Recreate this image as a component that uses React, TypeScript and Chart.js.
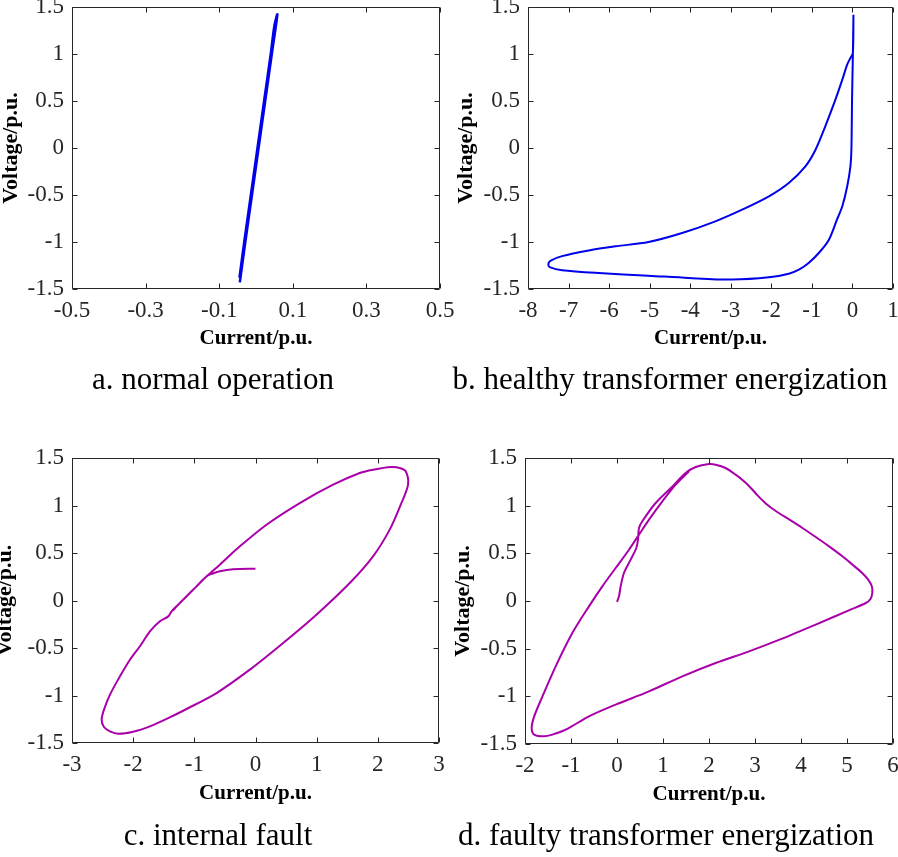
import React, { useEffect, useRef } from 'react';
import { Chart, registerables } from 'chart.js';

Chart.register(...registerables);

// ---------- data ----------
// a. normal operation
const aCurrent = [-0.044, -0.029, -0.011, 0.007, 0.025, 0.043, 0.058, 0.050, 0.040, 0.022, 0.004, -0.014, -0.032, -0.045];
const aVoltage = [-1.43, -1.0, -0.5, 0.0, 0.5, 1.0, 1.42, 1.3, 1.0, 0.5, 0.0, -0.5, -1.0, -1.38];

// b. healthy transformer energization
const bCurrent = [0.025, 0.01, -0.01, -0.025, -0.05, -0.13, -0.25, -0.38, -0.58, -0.83, -1.08, -1.32, -1.57, -2.06, -2.97, -4.04, -5.03, -6.26, -7.16, -7.45, -7.5, -7.45, -7.16, -6.5, -5.84, -5.03, -4.2, -3.38, -2.72, -2.06, -1.57, -1.16, -0.91, -0.67, -0.42, -0.25, -0.13, -0.05, 0.01, 0.025];
const bVoltage = [1.418, 0.975, 0.514, 0, -0.195, -0.41, -0.62, -0.76, -0.975, -1.117, -1.223, -1.294, -1.337, -1.376, -1.4, -1.383, -1.358, -1.33, -1.3, -1.27, -1.24, -1.2, -1.15, -1.09, -1.046, -1.0, -0.904, -0.78, -0.656, -0.514, -0.372, -0.195, -0.018, 0.23, 0.514, 0.727, 0.887, 0.957, 1.01, 1.418];

// c. internal fault
const cCurrent = [0, -0.365, -0.583, -0.719, -0.8, -0.964, -1.127, -1.29, -1.372, -1.426, -1.563, -1.726, -1.889, -2.053, -2.216, -2.379, -2.477, -2.515, -2.477, -2.379, -2.243, -1.998, -1.726, -1.454, -1.127, -0.637, -0.093, 0.452, 0.996, 1.541, 1.922, 2.194, 2.385, 2.494, 2.456, 2.357, 2.221, 1.922, 1.704, 1.269, 0.724, 0.18, -0.256, -0.583, -0.8, -1.073, -1.29, -1.345];
const cVoltage = [0.335, 0.328, 0.307, 0.279, 0.254, 0.149, 0.044, -0.061, -0.114, -0.167, -0.219, -0.325, -0.482, -0.623, -0.798, -0.991, -1.149, -1.254, -1.332, -1.377, -1.402, -1.381, -1.325, -1.247, -1.142, -0.974, -0.728, -0.447, -0.149, 0.184, 0.465, 0.746, 1.026, 1.219, 1.36, 1.395, 1.405, 1.377, 1.342, 1.219, 1.026, 0.798, 0.57, 0.377, 0.254, 0.079, -0.061, -0.104];

// d. faulty transformer energization
const dCurrent = [0, 0.043, 0.08, 0.152, 0.297, 0.42, 0.457, 0.478, 0.55, 0.84, 1.2, 1.49, 1.71, 2.0, 2.145, 2.36, 2.58, 2.76, 2.91, 3.06, 3.24, 3.46, 3.75, 4.03, 4.32, 4.61, 4.9, 5.12, 5.33, 5.46, 5.54, 5.55, 5.51, 5.41, 5.04, 4.32, 3.59, 2.87, 2.145, 1.42, 0.696, -0.029, -0.609, -1.116, -1.406, -1.587, -1.8, -1.855, -1.8, -1.62, -1.333, -0.971, -0.609, -0.319, -0.029, 0.261, 0.478, 0.696, 0.986, 1.275, 1.565];
const dVoltage = [-0.01, 0.049, 0.154, 0.294, 0.434, 0.556, 0.643, 0.766, 0.836, 1.028, 1.2, 1.343, 1.406, 1.437, 1.43, 1.395, 1.325, 1.255, 1.185, 1.105, 1.021, 0.941, 0.853, 0.766, 0.671, 0.573, 0.469, 0.381, 0.294, 0.224, 0.154, 0.084, 0.021, -0.021, -0.098, -0.248, -0.395, -0.528, -0.65, -0.79, -0.948, -1.087, -1.21, -1.35, -1.402, -1.42, -1.402, -1.332, -1.21, -1.0, -0.685, -0.336, -0.056, 0.154, 0.346, 0.538, 0.696, 0.853, 1.045, 1.22, 1.36];

// ticks
const yTicks = [-1.5, -1, -0.5, 0, 0.5, 1, 1.5];
const yTickLabels = ['-1.5', '-1', '-0.5', '0', '0.5', '1', '1.5'];
const aXTicks = [-0.5, -0.3, -0.1, 0.1, 0.3, 0.5];
const aXTickLabels = ['-0.5', '-0.3', '-0.1', '0.1', '0.3', '0.5'];
const bXTicks = [-8, -7, -6, -5, -4, -3, -2, -1, 0, 1];
const bXTickLabels = ['-8', '-7', '-6', '-5', '-4', '-3', '-2', '-1', '0', '1'];
const cXTicks = [-3, -2, -1, 0, 1, 2, 3];
const cXTickLabels = ['-3', '-2', '-1', '0', '1', '2', '3'];
const dXTicks = [-2, -1, 0, 1, 2, 3, 4, 5, 6];
const dXTickLabels = ['-2', '-1', '0', '1', '2', '3', '4', '5', '6'];

const xTitle = 'Current/p.u.';
const yTitle = 'Voltage/p.u.';

// ---------- layout ----------
const FONT = "'Liberation Serif', 'Times New Roman', serif";
const YW = 100; // y-axis box width
const XH = 100; // x-axis box height
const PAD_T = 25;
const PAD_R = 25;
const X_TITLE_SIZE = 21;
const Y_TITLE_SIZE = 22;
const TICK_SIZE = 23;

type PanelCfg = {
  current: number[];
  voltage: number[];
  xTicks: number[];
  xTickLabels: string[];
  color: string;
  width: number;
  L: number; T: number; R: number; B: number;
  yTitleX: number;
  xTitleY: number;
  caption: string;
  captionX: number;
  captionBase: number;
};

const panels: PanelCfg[] = [
  { current: aCurrent, voltage: aVoltage, xTicks: aXTicks, xTickLabels: aXTickLabels, color: 'rgb(0,0,235)', width: 2.5,
    L: 72, T: 7, R: 440, B: 289, yTitleX: 11.5, xTitleY: 338.5, caption: 'a. normal operation', captionX: 213, captionBase: 389 },
  { current: bCurrent, voltage: bVoltage, xTicks: bXTicks, xTickLabels: bXTickLabels, color: 'rgb(0,0,235)', width: 2,
    L: 528, T: 7, R: 893, B: 289, yTitleX: 466, xTitleY: 338.5, caption: 'b. healthy transformer energization', captionX: 670, captionBase: 389 },
  { current: cCurrent, voltage: cVoltage, xTicks: cXTicks, xTickLabels: cXTickLabels, color: 'rgb(170,0,170)', width: 2,
    L: 72, T: 458, R: 439, B: 743, yTitleX: 5.5, xTitleY: 793.5, caption: 'c. internal fault', captionX: 218, captionBase: 845 },
  { current: dCurrent, voltage: dVoltage, xTicks: dXTicks, xTickLabels: dXTickLabels, color: 'rgb(170,0,170)', width: 2,
    L: 525, T: 458, R: 893, B: 744, yTitleX: 463, xTitleY: 795, caption: 'd. faulty transformer energization', captionX: 666, captionBase: 845 },
];

const boxPlugin = {
  id: 'matlabBox',
  afterDatasetsDraw(chart: any) {
    const { ctx, chartArea, scales } = chart;
    const l = Math.round(chartArea.left) + 0.5;
    const r = Math.round(chartArea.right) - 0.5;
    const t = Math.round(chartArea.top) + 0.5;
    const b = Math.round(chartArea.bottom) - 0.5;
    const tl = 5;
    ctx.save();
    ctx.strokeStyle = '#262626';
    ctx.lineWidth = 1;
    ctx.beginPath();
    ctx.rect(l, t, r - l, b - t);
    for (const tk of scales.x.ticks) {
      const px = Math.round(scales.x.getPixelForValue(tk.value)) + 0.5;
      ctx.moveTo(px, b); ctx.lineTo(px, b - tl);
      ctx.moveTo(px, t); ctx.lineTo(px, t + tl);
    }
    for (const tk of scales.y.ticks) {
      const py = Math.round(scales.y.getPixelForValue(tk.value)) + 0.5;
      ctx.moveTo(l, py); ctx.lineTo(l + tl, py);
      ctx.moveTo(r, py); ctx.lineTo(r - tl, py);
    }
    ctx.stroke();
    ctx.restore();
  },
};

function lookup(ticks: number[], labels: string[], v: number) {
  const i = ticks.findIndex((t) => Math.abs(t - v) < 1e-9);
  return i >= 0 ? labels[i] : '';
}

function Panel({ cfg }: { cfg: PanelCfg }) {
  const ref = useRef<HTMLCanvasElement>(null);
  const W = YW + (cfg.R - cfg.L) + PAD_R;
  const H = PAD_T + (cfg.B - cfg.T) + XH;
  const left = cfg.L - YW;
  const top = cfg.T - PAD_T;

  useEffect(() => {
    if (!ref.current) return;
    const pts = cfg.current.map((x, i) => ({ x, y: cfg.voltage[i] }));
    const tickFont = { family: FONT, size: TICK_SIZE };
    const chart = new Chart(ref.current, {
      type: 'scatter',
      data: {
        datasets: [
          {
            data: pts,
            showLine: true,
            borderColor: cfg.color,
            backgroundColor: cfg.color,
            borderWidth: cfg.width,
            pointRadius: 0,
            tension: 0.3,
            fill: false,
          },
        ],
      },
      options: {
        animation: false,
        responsive: false,
        maintainAspectRatio: false,
        layout: { padding: { top: PAD_T, right: PAD_R, left: 0, bottom: 0 } },
        plugins: { legend: { display: false }, tooltip: { enabled: false } },
        scales: {
          x: {
            type: 'linear',
            min: cfg.xTicks[0],
            max: cfg.xTicks[cfg.xTicks.length - 1],
            afterFit: (s: any) => { s.height = XH; },
            afterBuildTicks: (s: any) => { s.ticks = cfg.xTicks.map((v) => ({ value: v })); },
            grid: { display: false, drawTicks: false },
            border: { display: false },
            ticks: {
              padding: 8,
              font: tickFont,
              color: '#262626',
              autoSkip: false,
              maxRotation: 0,
              minRotation: 0,
              callback: (v: any) => lookup(cfg.xTicks, cfg.xTickLabels, Number(v)),
            },
            title: {
              display: true,
              text: xTitle,
              font: { family: FONT, size: X_TITLE_SIZE, weight: 'bold' },
              color: '#000',
              padding: { top: 0, bottom: cfg.B + XH - (X_TITLE_SIZE * 1.2) / 2 - cfg.xTitleY },
            },
          },
          y: {
            type: 'linear',
            min: -1.5,
            max: 1.5,
            afterFit: (s: any) => { s.width = YW; },
            afterBuildTicks: (s: any) => { s.ticks = yTicks.map((v) => ({ value: v })); },
            grid: { display: false, drawTicks: false },
            border: { display: false },
            ticks: {
              padding: 8,
              font: tickFont,
              color: '#262626',
              autoSkip: false,
              callback: (v: any) => lookup(yTicks, yTickLabels, Number(v)),
            },
            title: {
              display: true,
              text: yTitle,
              font: { family: FONT, size: Y_TITLE_SIZE, weight: 'bold' },
              color: '#000',
              padding: { top: cfg.yTitleX - left - (Y_TITLE_SIZE * 1.2) / 2, bottom: 0 },
            },
          },
        },
      },
      plugins: [boxPlugin],
    } as any);
    return () => chart.destroy();
  }, []);

  return (
    <canvas
      ref={ref}
      width={W}
      height={H}
      style={{ position: 'absolute', left, top, width: W, height: H }}
    />
  );
}

export default function App() {
  return (
    <div style={{ position: 'absolute', left: 0, top: 0, width: 898, height: 857, overflow: 'hidden', background: '#fff' }}>
      {panels.map((p, i) => (
        <Panel key={i} cfg={p} />
      ))}
      {panels.map((p, i) => (
        <div
          key={'cap' + i}
          style={{
            position: 'absolute',
            left: p.captionX - 250,
            width: 500,
            top: p.captionBase - 26,
            fontFamily: FONT,
            fontSize: 31,
            lineHeight: '31px',
            textAlign: 'center',
            whiteSpace: 'nowrap',
            color: '#000',
          }}
        >
          {p.caption}
        </div>
      ))}
    </div>
  );
}
